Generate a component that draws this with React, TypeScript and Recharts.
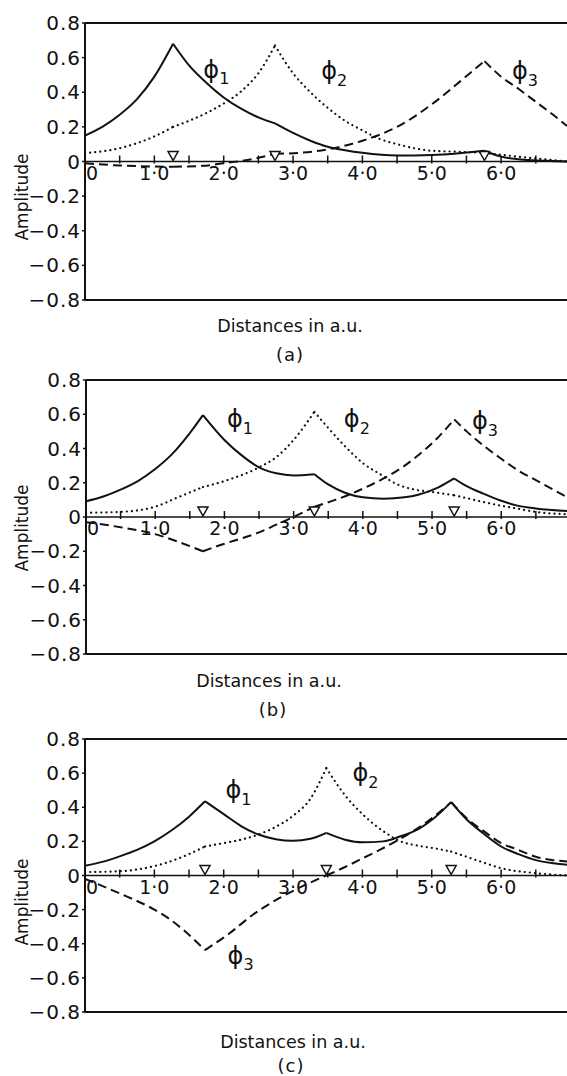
import React from 'react'
import { ComposedChart, Line, Scatter, XAxis, YAxis, ReferenceLine } from 'recharts'

type Pt = [number, number]

const FONT = '"DejaVu Sans", sans-serif'
const X_MAX = 6.95

// nuclear positions (triangles on the zero line)
const atomsA = [1.27, 2.74, 5.76]
const atomsB = [1.69, 3.3, 5.32]
const atomsC = [1.73, 3.48, 5.28]

// panel (a)
const phi1A: Pt[] = [
  [0, 0.15], [0.25, 0.2], [0.5, 0.27], [0.75, 0.36], [1.0, 0.49], [1.27, 0.68],
  [1.5, 0.555], [1.75, 0.455], [2.0, 0.37], [2.25, 0.305], [2.5, 0.255], [2.74, 0.22],
  [3.0, 0.165], [3.25, 0.12], [3.5, 0.085], [3.75, 0.065], [4.0, 0.05], [4.5, 0.035], [5.0, 0.038], [5.4, 0.048], [5.76, 0.062],
  [6.0, 0.028], [6.4, 0.008], [6.95, 0.0],
]
const phi2A: Pt[] = [
  [0, 0.048], [0.5, 0.077], [1.0, 0.145], [1.27, 0.2],
  [1.5, 0.235], [1.75, 0.28], [2.0, 0.335], [2.25, 0.405], [2.5, 0.51], [2.74, 0.67],
  [3.0, 0.51], [3.25, 0.4], [3.5, 0.31], [3.75, 0.235], [4.0, 0.18], [4.25, 0.13], [4.5, 0.1], [5.0, 0.062], [5.4, 0.056], [5.76, 0.05],
  [6.2, 0.03], [6.95, 0.0],
]
const phi3A: Pt[] = [
  [0, -0.01], [0.5, -0.023], [1.0, -0.029], [1.27, -0.03],
  [1.7, -0.025], [2.0, -0.01], [2.4, 0.013], [2.74, 0.045],
  [3.1, 0.05], [3.5, 0.07], [4.0, 0.12], [4.5, 0.2], [5.0, 0.33], [5.4, 0.46], [5.76, 0.58],
  [6.0, 0.49], [6.25, 0.42], [6.5, 0.345], [6.75, 0.27], [6.95, 0.205],
]

// panel (b)
const phi1B: Pt[] = [
  [0, 0.092], [0.25, 0.12], [0.5, 0.16], [0.75, 0.21], [1.0, 0.28], [1.25, 0.37], [1.5, 0.49], [1.69, 0.595],
  [2.0, 0.45], [2.25, 0.36], [2.5, 0.29], [2.75, 0.255], [3.0, 0.243], [3.3, 0.25],
  [3.5, 0.19], [3.75, 0.14], [4.0, 0.115], [4.3, 0.107], [4.6, 0.115], [4.8, 0.13], [5.1, 0.175], [5.32, 0.225],
  [5.5, 0.18], [5.75, 0.135], [6.0, 0.095], [6.25, 0.065], [6.5, 0.05], [6.95, 0.035],
]
const phi2B: Pt[] = [
  [0, 0.025], [0.5, 0.03], [1.0, 0.06], [1.3, 0.11], [1.69, 0.175],
  [2.0, 0.21], [2.5, 0.29], [2.75, 0.35], [3.0, 0.45], [3.3, 0.614],
  [3.5, 0.52], [3.75, 0.41], [4.0, 0.315], [4.25, 0.25], [4.5, 0.19], [4.75, 0.16], [5.0, 0.146], [5.32, 0.127],
  [5.5, 0.11], [5.75, 0.087], [6.0, 0.066], [6.25, 0.048], [6.5, 0.03], [6.95, 0.016],
]
const phi3B: Pt[] = [
  [0, -0.03], [0.5, -0.06], [1.0, -0.1], [1.3, -0.14], [1.5, -0.17], [1.69, -0.2],
  [2.0, -0.156], [2.25, -0.125], [2.5, -0.09], [2.75, -0.045], [3.0, 0.0], [3.3, 0.06],
  [3.6, 0.1], [3.8, 0.13], [4.05, 0.175], [4.3, 0.225], [4.55, 0.285], [4.8, 0.36], [5.05, 0.45], [5.32, 0.57],
  [5.5, 0.5], [5.75, 0.415], [6.0, 0.34], [6.25, 0.27], [6.5, 0.215], [6.75, 0.16], [6.95, 0.117],
]

// panel (c)
const phi1C: Pt[] = [
  [0, 0.057], [0.25, 0.08], [0.5, 0.112], [0.75, 0.15], [1.0, 0.2], [1.25, 0.265], [1.5, 0.345], [1.73, 0.435],
  [2.0, 0.36], [2.25, 0.29], [2.5, 0.24], [2.75, 0.213], [3.0, 0.204], [3.25, 0.215], [3.48, 0.25],
  [3.75, 0.21], [4.0, 0.195], [4.3, 0.2], [4.55, 0.23], [4.8, 0.27], [5.03, 0.335], [5.28, 0.43],
  [5.5, 0.33], [5.75, 0.245], [6.0, 0.17], [6.25, 0.125], [6.5, 0.09], [6.75, 0.072], [6.95, 0.063],
]
const phi2C: Pt[] = [
  [0, 0.02], [0.5, 0.025], [1.0, 0.055], [1.35, 0.1], [1.73, 0.17],
  [2.0, 0.19], [2.25, 0.21], [2.5, 0.24], [2.75, 0.285], [3.0, 0.35], [3.25, 0.45], [3.48, 0.63],
  [3.75, 0.47], [4.0, 0.36], [4.3, 0.26], [4.55, 0.2], [4.8, 0.175], [5.03, 0.16], [5.28, 0.14],
  [5.5, 0.11], [5.75, 0.075], [6.0, 0.043], [6.5, 0.014], [6.95, 0.0],
]
const phi3C: Pt[] = [
  [0, -0.02], [0.5, -0.105], [1.0, -0.2], [1.2, -0.25], [1.45, -0.33], [1.73, -0.437],
  [2.08, -0.34], [2.42, -0.23], [2.8, -0.133], [3.1, -0.07], [3.48, 0.0],
  [3.75, 0.05], [4.0, 0.1], [4.25, 0.15], [4.5, 0.205], [4.75, 0.265], [5.0, 0.335], [5.28, 0.43],
  [5.5, 0.337], [5.75, 0.26], [6.0, 0.19], [6.25, 0.15], [6.5, 0.11], [6.75, 0.09], [6.95, 0.082],
]

// where the phi labels sit (glyph centre, in data units)
const labelsA = [{ x: 1.82, y: 0.53, n: '1' }, { x: 3.52, y: 0.52, n: '2' }, { x: 6.27, y: 0.52, n: '3' }]
const labelsB = [{ x: 2.15, y: 0.57, n: '1' }, { x: 3.84, y: 0.57, n: '2' }, { x: 5.69, y: 0.56, n: '3' }]
const labelsC = [{ x: 2.14, y: 0.5, n: '1' }, { x: 3.97, y: 0.6, n: '2' }, { x: 2.17, y: -0.47, n: '3' }]

const xTickValues = [0, 0.5, 1, 1.5, 2, 2.5, 3, 3.5, 4, 4.5, 5, 5.5, 6, 6.5]
const xTickLabels: Record<number, string> = { 0: '0', 1: '1·0', 2: '2·0', 3: '3·0', 4: '4·0', 5: '5·0', 6: '6·0' }
const yTicks = [-0.8, -0.6, -0.4, -0.2, 0, 0.2, 0.4, 0.6, 0.8]

const solid = { stroke: '#111', strokeWidth: 2 }
const dotted = { stroke: '#111', strokeWidth: 2.2, strokeDasharray: '0.1 5', strokeLinecap: 'round' as const }
const dashed = { stroke: '#111', strokeWidth: 2, strokeDasharray: '9 5' }

// split a curve at the nuclei so each piece keeps its cusp
function split(points: Pt[], cusps: number[]) {
  const out: { x: number; y: number }[][] = []
  let cur: { x: number; y: number }[] = []
  points.forEach(([x, y]) => {
    cur.push({ x, y })
    if (cusps.includes(x) && cur.length > 1) {
      out.push(cur)
      cur = [{ x, y }]
    }
  })
  if (cur.length > 1) out.push(cur)
  return out
}

const TickMark = (props: any) => {
  const { cx, cy, payload } = props
  const label = xTickLabels[payload.x]
  return (
    <g>
      <line x1={cx} x2={cx} y1={cy + 2} y2={cy - 6} stroke="#111" strokeWidth={1.5} />
      {label && (
        <text
          x={payload.x === 0 ? cx + 1 : cx}
          y={cy + 18}
          textAnchor={payload.x === 0 ? 'start' : 'middle'}
          fontSize={19}
          fontFamily={FONT}
          fill="#111"
        >
          {label}
        </text>
      )}
    </g>
  )
}

const Triangle = (props: any) => {
  const { cx, cy } = props
  return (
    <polygon
      points={`${cx - 5},${cy - 10} ${cx + 5},${cy - 10} ${cx},${cy - 1}`}
      fill="#fff"
      stroke="#111"
      strokeWidth={1.5}
    />
  )
}

const PhiLabel = (props: any) => {
  const { cx, cy, payload } = props
  return (
    <g fontFamily={FONT} fill="#111">
      <text x={cx} y={cy} textAnchor="middle" dominantBaseline="central" fontSize={24}>ϕ</text>
      <text x={cx + 13} y={cy + 9} textAnchor="middle" dominantBaseline="central" fontSize={16}>{payload.n}</text>
    </g>
  )
}

interface PanelProps {
  top: number
  plotHeight: number
  left: number
  atoms: number[]
  phi1: Pt[]
  phi2: Pt[]
  phi3: Pt[]
  labels: { x: number; y: number; n: string }[]
  ampY: number
  distY: number
  distX: number
  tag: string
  tagY: number
  tagX: number
}

function Panel(p: PanelProps) {
  const series = [
    { pts: p.phi1, style: solid, key: 's1' },
    { pts: p.phi2, style: dotted, key: 's2' },
    { pts: p.phi3, style: dashed, key: 's3' },
  ]
  const ticks = xTickValues.map((x) => ({ x, y: 0 }))
  const atomPts = p.atoms.map((x) => ({ x, y: 0 }))
  return (
    <>
      <div style={{ position: 'absolute', left: 0, top: p.top - 23 }}>
        <ComposedChart
          width={567}
          height={p.plotHeight + 43}
          margin={{ top: 23, right: 0, bottom: 20, left: 0 }}
        >
          <XAxis type="number" dataKey="x" domain={[0, X_MAX]} hide allowDataOverflow />
          <YAxis
            type="number"
            dataKey="y"
            width={p.left}
            domain={[-0.8, 0.8]}
            ticks={yTicks}
            interval={0}
            allowDataOverflow
            tickFormatter={(v: number) => (v === 0 ? '0' : v < 0 ? `−${Math.abs(v).toFixed(1)}` : v.toFixed(1))}
            tick={{ fontSize: 20, fontFamily: FONT, fill: '#111', letterSpacing: 1 }}
            tickSize={3}
            tickMargin={1}
            axisLine={{ stroke: '#111', strokeWidth: 2 }}
            tickLine={{ stroke: '#111', strokeWidth: 1.5 }}
          />
          <ReferenceLine y={0.8} stroke="#111" strokeWidth={2} />
          <ReferenceLine y={-0.8} stroke="#111" strokeWidth={2} />
          <ReferenceLine y={0} stroke="#111" strokeWidth={1.6} />
          {series.flatMap((s) =>
            split(s.pts, p.atoms).map((seg, i) => (
              <Line
                key={`${s.key}-${i}`}
                data={seg}
                dataKey="y"
                type="monotone"
                dot={false}
                activeDot={false}
                isAnimationActive={false}
                {...s.style}
              />
            ))
          )}
          <Scatter data={ticks} shape={TickMark} isAnimationActive={false} />
          <Scatter data={atomPts} shape={Triangle} isAnimationActive={false} />
          <Scatter data={p.labels} shape={PhiLabel} isAnimationActive={false} />
        </ComposedChart>
      </div>
      <div
        style={{
          position: 'absolute',
          left: 22 - 60,
          top: p.ampY - 11,
          width: 120,
          height: 22,
          lineHeight: '22px',
          textAlign: 'center',
          transform: 'rotate(-90deg)',
          fontFamily: FONT,
          fontSize: 17,
          color: '#111',
        }}
      >
        Amplitude
      </div>
      <div
        style={{
          position: 'absolute',
          left: p.distX - 100,
          top: p.distY - 11,
          width: 200,
          lineHeight: '22px',
          textAlign: 'center',
          fontFamily: FONT,
          fontSize: 17.5,
          color: '#111',
        }}
      >
        Distances in a.u.
      </div>
      <div
        style={{
          position: 'absolute',
          left: p.tagX - 30,
          top: p.tagY - 11,
          width: 60,
          lineHeight: '22px',
          textAlign: 'center',
          fontFamily: FONT,
          fontSize: 18,
          letterSpacing: 1,
          color: '#111',
        }}
      >
        {p.tag}
      </div>
    </>
  )
}

export default function App() {
  return (
    <div style={{ position: 'absolute', left: 0, top: 0, width: 567, height: 1076, background: '#fff', overflow: 'hidden' }}>
      <Panel
        top={23} plotHeight={277} left={85}
        atoms={atomsA} phi1={phi1A} phi2={phi2A} phi3={phi3A} labels={labelsA}
        ampY={197} distX={290} distY={326} tag="(a)" tagX={290} tagY={355}
      />
      <Panel
        top={380} plotHeight={274} left={86}
        atoms={atomsB} phi1={phi1B} phi2={phi2B} phi3={phi3B} labels={labelsB}
        ampY={528} distX={269} distY={681} tag="(b)" tagX={273} tagY={710}
      />
      <Panel
        top={739} plotHeight={273} left={85}
        atoms={atomsC} phi1={phi1C} phi2={phi2C} phi3={phi3C} labels={labelsC}
        ampY={902} distX={293} distY={1042} tag="(c)" tagX={291} tagY={1066}
      />
    </div>
  )
}
